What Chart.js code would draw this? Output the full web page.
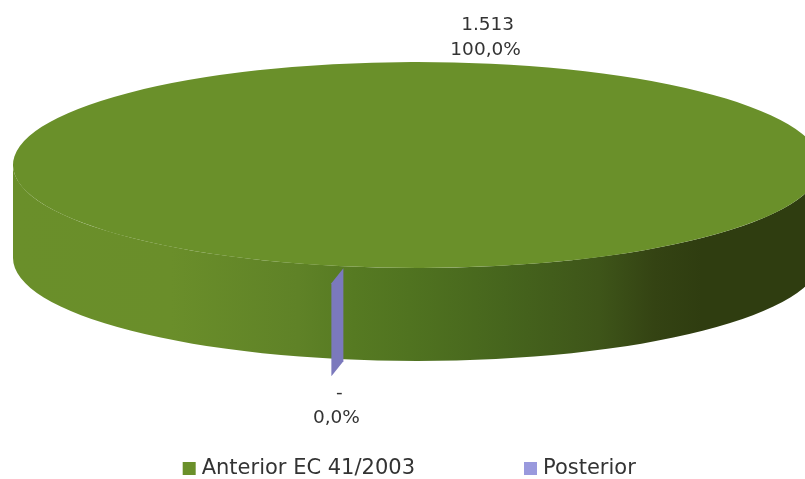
<!DOCTYPE html>
<html>
<head>
<meta charset="utf-8">
<style>
  html, body { margin: 0; padding: 0; background: #fff; overflow: hidden; }
  canvas { display: block; }
</style>
<script src="https://cdn.jsdelivr.net/npm/chart.js@4"></script>
</head>
<body>
<canvas id="pieChart" width="805" height="479"></canvas>
<script>
// --- Data ---
const categories = ['Anterior EC 41/2003', 'Posterior'];
const values = [1513, 0];
const valueLabels = ['1.513', '-'];
const percentLabels = ['100,0%', '0,0%'];

// --- Look of the tilted disc ---
const disc = { cx: 417, cy: 165, rx: 404, ry: 103, depth: 93 };
const topColors = ['#6a902a', '#9999dd'];
const sliverColor = '#7b79bd';
const wallStops = [[0, '#6a8f2a'], [0.2, '#6a8e2a'], [0.36, '#5f8227'], [0.43, '#567a22'], [0.5, '#507320'], [0.62, '#46651d'], [0.74, '#3e5519'], [0.81, '#344313'], [0.87, '#2f3d10'], [1, '#2f3d10']];
const textColor = '#333333';
const fontFamily = '"DejaVu Sans", sans-serif';

Chart.defaults.font.family = fontFamily;

const discPoint = (angle) => ({
    x: disc.cx + disc.rx * Math.cos(angle),
    y: disc.cy + disc.ry * Math.sin(angle)
});

const tiltPlugin = {
    id: 'tilt',
    beforeDatasetsDraw(chart) {
        const ctx = chart.ctx;
        const arc = chart.getDatasetMeta(0).data[0];

        // side wall below the front half of the rim
        const left = disc.cx - disc.rx, right = disc.cx + disc.rx;
        const wall = ctx.createLinearGradient(left, 0, 805, 0);
        wallStops.forEach(s => wall.addColorStop(s[0], s[1]));
        ctx.save();
        ctx.fillStyle = wall;
        ctx.beginPath();
        ctx.ellipse(disc.cx, disc.cy, disc.rx, disc.ry, 0, Math.PI, 0, true);
        ctx.lineTo(right, disc.cy + disc.depth);
        ctx.ellipse(disc.cx, disc.cy + disc.depth, disc.rx, disc.ry, 0, 0, Math.PI, false);
        ctx.closePath();
        ctx.fill();
        ctx.restore();

        // squash the library's circle into the ellipse
        ctx.save();
        ctx.translate(disc.cx, disc.cy);
        ctx.scale(disc.rx / arc.outerRadius, disc.ry / arc.outerRadius);
        ctx.translate(-arc.x, -arc.y);
    },
    afterDatasetsDraw(chart) {
        const ctx = chart.ctx;
        const arcs = chart.getDatasetMeta(0).data;
        ctx.restore();

        // cut face of the empty slice
        const p = discPoint(arcs[1].startAngle);
        ctx.save();
        ctx.fillStyle = sliverColor;
        ctx.beginPath();
        ctx.moveTo(p.x, p.y + 2);
        ctx.lineTo(p.x - 12, p.y + 17);
        ctx.lineTo(p.x - 12, p.y + 17 + disc.depth);
        ctx.lineTo(p.x, p.y + 2 + disc.depth);
        ctx.closePath();
        ctx.fill();
        ctx.restore();

        // data labels, placed from each slice's middle angle
        ctx.save();
        ctx.fillStyle = textColor;
        ctx.font = '18.5px ' + fontFamily;
        ctx.textAlign = 'center';
        ctx.textBaseline = 'middle';
        const top = discPoint((arcs[0].startAngle + arcs[0].endAngle) / 2);
        ctx.fillText(valueLabels[0], top.x - 3, top.y - 39);
        ctx.fillText(percentLabels[0], top.x - 5, top.y - 14);
        const bottom = discPoint(arcs[1].startAngle);
        ctx.fillText(valueLabels[1], bottom.x - 4, bottom.y + 127);
        ctx.fillText(percentLabels[1], bottom.x - 7, bottom.y + 152);
        ctx.restore();
    }
};

new Chart(document.getElementById('pieChart').getContext('2d'), {
    type: 'pie',
    data: {
        labels: categories,
        datasets: [{
            data: values,
            backgroundColor: topColors,
            borderWidth: 0,
            clip: false
        }]
    },
    options: {
        responsive: false,
        animation: false,
        rotation: 190.5,
        layout: { padding: { left: 18, right: 0, top: 0, bottom: -10 } },
        plugins: {
            tooltip: { enabled: false },
            legend: {
                position: 'bottom',
                labels: {
                    padding: 113.5,
                    boxWidth: 4,
                    boxHeight: 4,
                    color: textColor,
                    font: { size: 21 },
                    // thick outline makes a small swatch close to the text
                    generateLabels: (chart) => categories.map((name, i) => ({
                        text: name,
                        fontColor: textColor,
                        fillStyle: topColors[i],
                        strokeStyle: topColors[i],
                        lineWidth: 9,
                        index: i
                    }))
                }
            }
        }
    },
    plugins: [tiltPlugin]
});
</script>
</body>
</html>
